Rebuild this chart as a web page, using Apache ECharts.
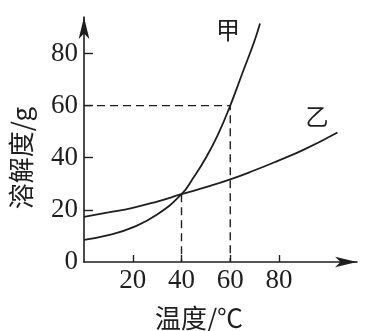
<!DOCTYPE html>
<html>
<head>
<meta charset="utf-8">
<script src="https://cdn.jsdelivr.net/npm/echarts@6/dist/echarts.min.js"></script>
<style>
html,body{margin:0;padding:0;background:#fff;}
#c{width:373px;height:331px;}
</style>
</head>
<body>
<div id="c"></div>
<script>
// Temperature (°C) and solubility (g)
var jiaTemp = [0, 10, 20, 30, 40, 45, 50, 55, 60, 65, 70, 72.2];
var jiaSol  = [8.5, 10.3, 13.3, 18.2, 26, 32.5, 40, 49, 60, 72.5, 85, 91.5];
var yiTemp  = [0, 10, 20, 30, 40, 50, 60, 70, 80, 90, 104];
var yiSol   = [17.3, 19, 20.8, 23.2, 26, 28.7, 31.7, 35.2, 39, 43, 49.7];
var guide60 = [[0, 60], [60, 60], [60, 0]];
var guide40 = [[40, 26], [40, 0]];
var xTicks = [20, 40, 60, 80];
var yTicks = [20, 40, 60, 80];
var yLabels = [0, 20, 40, 60, 80];
var xName = '温度/℃';
var yName = '溶解度/g';
var seriesNames = ['甲', '乙'];

function zip(a, b) { return a.map(function (v, i) { return [v, b[i]]; }); }

var ink = '#1e1e1e';
var numFont = '"Liberation Serif", "DejaVu Serif", serif';
var cjkFont = '"Noto Sans CJK SC", sans-serif';

var chart = echarts.init(document.getElementById('c'), null, {renderer: 'canvas'});
chart.setOption({
  animation: false,
  backgroundColor: '#fff',
  grid: {left: 84, bottom: 69, top: 17, right: 16, outerBoundsMode: 'none', containLabel: false},
  xAxis: {
    type: 'value', min: 0, max: 112,
    splitLine: {show: false},
    axisLine: {lineStyle: {color: ink, width: 1.6}, symbol: ['none', 'arrow'], symbolSize: [8, 22]},
    axisTick: {inside: true, length: 7, lineStyle: {color: ink, width: 1.4}, customValues: xTicks},
    axisLabel: {customValues: xTicks, color: ink, fontFamily: numFont, fontSize: 27, margin: 5}
  },
  yAxis: {
    type: 'value', min: 0, max: 94,
    splitLine: {show: false},
    axisLine: {show: true, lineStyle: {color: ink, width: 1.6}, symbol: ['none', 'arrow'], symbolSize: [8, 22]},
    axisTick: {show: true, inside: true, length: 9, lineStyle: {color: ink, width: 1.4}, customValues: yTicks},
    axisLabel: {customValues: yLabels, color: ink, fontFamily: numFont, fontSize: 27, margin: 6}
  },
  series: [
    {name: seriesNames[0], type: 'line', data: zip(jiaTemp, jiaSol), smooth: 0.5, showSymbol: false,
     lineStyle: {color: ink, width: 1.8}},
    {name: seriesNames[1], type: 'line', data: zip(yiTemp, yiSol), smooth: 0.5, showSymbol: false,
     lineStyle: {color: ink, width: 1.8}},
    {type: 'line', data: guide60, showSymbol: false,
     lineStyle: {color: ink, width: 1.4, type: [8, 5]}},
    {type: 'line', data: guide40, showSymbol: false,
     lineStyle: {color: ink, width: 1.4, type: [8, 5]}}
  ],
  graphic: [
    {type: 'text', x: 21, y: 158, rotation: Math.PI / 2,
     style: {text: yName, font: '26px ' + cjkFont, fill: ink, align: 'center', verticalAlign: 'middle'}},
    {type: 'text', x: 199, y: 318,
     style: {text: xName, font: '26px ' + cjkFont, fill: ink, align: 'center', verticalAlign: 'middle'}},
    {type: 'text', x: 228, y: 30,
     style: {text: seriesNames[0], font: '24px ' + cjkFont, fill: ink, align: 'center', verticalAlign: 'middle'}},
    {type: 'text', x: 317, y: 116,
     style: {text: seriesNames[1], font: '23px ' + cjkFont, fill: ink, align: 'center', verticalAlign: 'middle'}}
  ]
});
</script>
</body>
</html>
